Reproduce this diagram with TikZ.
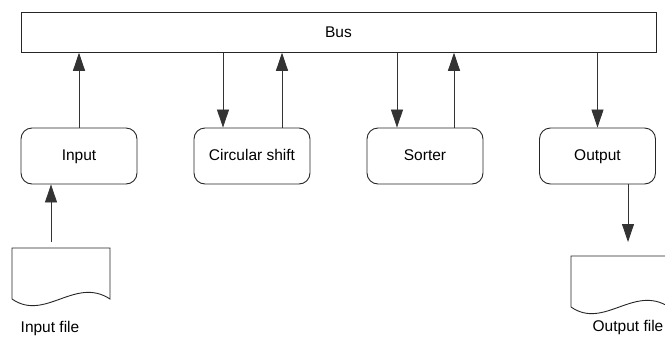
\documentclass[tikz,border=0pt]{standalone}
\usepackage{fontspec}
\setmainfont{Liberation Sans}
\usetikzlibrary{arrows.meta,calc}
\begin{document}
\begin{tikzpicture}[x=1pt,y=-1pt,
  every node/.style={font=\fontsize{15.5}{18}\selectfont},
  busbox/.style={draw=black!85,line width=0.9pt,minimum width=635pt,minimum height=40pt,inner sep=0pt},
  modbox/.style={draw=black!85,line width=0.9pt,rounded corners=11pt,minimum width=116pt,minimum height=56pt,inner sep=0pt,text height=11pt,text depth=3pt},
  doc/.style={draw=black!85,line width=0.9pt},
  arr/.style={draw=black!80,line width=0.8pt,-{Triangle[length=18pt,width=12pt]}},
  lbl/.style={inner sep=0pt}
]
\clip (0,0) rectangle (665,338);
\useasboundingbox (0,0) rectangle (665,338);
\node[busbox] (bus) at (338.5,32.3) {Bus};
\node[modbox] (in) at (79,156) {Input};
\node[modbox] (cs) at (252,156) {Circular shift};
\node[modbox] (so) at (425,156) {Sorter};
\node[modbox] (out) at (597.5,156) {Output};
% documents
\draw[doc] (12,299) -- (12,248) -- (110,248) -- (110,299) .. controls (75,276) and (45,322) .. (12,299);
\coordinate (infile) at (51,242);
\draw[doc] (571,307) -- (571,256) -- (669,256) -- (669,307) .. controls (634,284) and (604,330) .. (571,307);
\coordinate (outfile) at (628,242);
\node[lbl] (inlbl) at (50,328) {Input file};
\node[lbl] (outlbl) at (628,327) {Output file};
% connectors
\draw[arr] (in.north) -- (in.north |- bus.south);
\draw[arr] ([xshift=-29pt]cs.north |- bus.south) -- ([xshift=-29pt]cs.north);
\draw[arr] ([xshift=30pt]cs.north) -- ([xshift=30pt]cs.north |- bus.south);
\draw[arr] ([xshift=-28pt]so.north |- bus.south) -- ([xshift=-28pt]so.north);
\draw[arr] ([xshift=29pt]so.north) -- ([xshift=29pt]so.north |- bus.south);
\draw[arr] (out.north |- bus.south) -- (out.north);
\draw[arr] (infile) -- (infile |- in.south);
\draw[arr] (outfile |- out.south) -- (outfile);
\end{tikzpicture}
\end{document}
